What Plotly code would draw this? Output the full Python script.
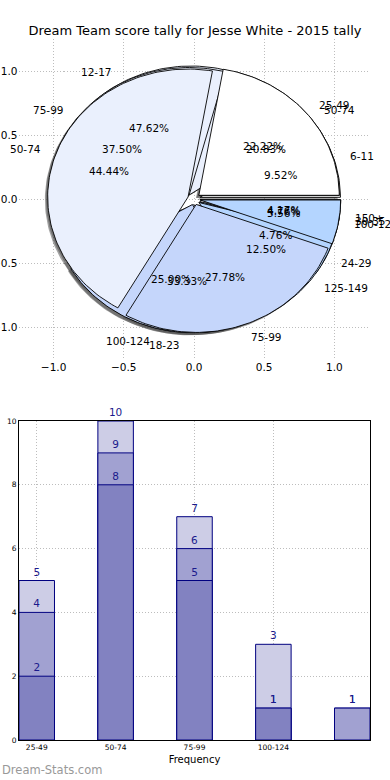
import numpy as np
import plotly.graph_objects as go

title = "Dream Team score tally for Jesse White - 2015 tally"

# three overlaid pies (drawn in this order, the last one on top)
pie_a_labels = ["6-11", "12-17", "18-23", "24-29", "30-35"]
pie_a_values = [2, 10, 7, 1, 1]
pie_b_labels = ["50-74", "75-99", "100-124", "125-149", "150+"]
pie_b_values = [5, 9, 6, 3, 1]
pie_c_labels = ["25-49", "50-74", "75-99", "100-124"]
pie_c_values = [4, 8, 5, 1]
slice_colors = ["#ffffff", "#eaf0fd", "#c5d6fb", "#b4d5ff", "#a8c8f8"]
explode = 0.045

# bar chart (overlaid bars)
bar_categories = ["25-49", "50-74", "75-99", "100-124", "125-149"]
bar_tick_labels = ["25-49", "50-74", "75-99", "100-124"]
bar_light = [5, 10, 7, 3, 1]
bar_medium = [4, 9, 6, 1, 1]
bar_dark = [2, 8, 5, 1, None]
bar_colors = {"light": "#cdcde6", "medium": "#a1a1d1", "dark": "#8282c1"}

W, H = 390, 780
FONT = "DejaVu Sans"

fig = go.Figure()

pies = [(pie_a_labels, pie_a_values), (pie_b_labels, pie_b_values), (pie_c_labels, pie_c_values)]


def wedge_path(t1, t2, cx, cy, r=1.0):
    n = max(int(abs(t2 - t1) / 1.5) + 2, 4)
    th = np.radians(np.linspace(t1, t2, n))
    xs = np.concatenate([[cx], cx + r * np.cos(th), [cx]])
    ys = np.concatenate([[cy], cy + r * np.sin(th), [cy]])
    return xs, ys


geoms = []
for labels, values in pies:
    vals = np.asarray(values, dtype=float)
    frac = vals / vals.sum()
    edges = np.concatenate([[0.0], np.cumsum(frac) * 360.0])
    items = []
    for i, lab in enumerate(labels):
        t1, t2 = edges[i], edges[i + 1]
        mid = np.radians((t1 + t2) / 2)
        cx, cy = explode * np.cos(mid), explode * np.sin(mid)
        items.append((t1, t2, cx, cy, mid, lab, frac[i], i))
    geoms.append(items)

# shadows first (below all wedges)
for items in geoms:
    for t1, t2, cx, cy, mid, lab, f, i in items:
        xs, ys = wedge_path(t1, t2, cx - 0.02, cy - 0.02)
        fig.add_trace(go.Scatter(x=xs, y=ys, fill="toself", mode="lines",
                                 line=dict(width=0, color="rgba(0,0,0,0)"),
                                 fillcolor="rgba(70,70,70,0.5)", hoverinfo="skip",
                                 showlegend=False, xaxis="x", yaxis="y"))
# wedges
for items in geoms:
    for t1, t2, cx, cy, mid, lab, f, i in items:
        xs, ys = wedge_path(t1, t2, cx, cy)
        fig.add_trace(go.Scatter(x=xs, y=ys, fill="toself", mode="lines",
                                 line=dict(width=0.9, color="black"),
                                 fillcolor=slice_colors[i], hoverinfo="skip",
                                 showlegend=False, xaxis="x", yaxis="y"))

annotations = []
for items in geoms:
    for t1, t2, cx, cy, mid, lab, f, i in items:
        lx, ly = cx + 1.1 * np.cos(mid), cy + 1.1 * np.sin(mid)
        annotations.append(dict(x=lx, y=ly, xref="x", yref="y", text=lab, showarrow=False,
                                xanchor="left" if lx > 0 else "right", yanchor="middle",
                                font=dict(family=FONT, size=10.5, color="black")))
        px, py = cx + 0.6 * np.cos(mid), cy + 0.6 * np.sin(mid)
        annotations.append(dict(x=px, y=py, xref="x", yref="y", text=f"{f*100:.2f}%", showarrow=False,
                                xanchor="center", yanchor="middle",
                                font=dict(family=FONT, size=10.5, color="black")))

# bars: tallest first, so the shorter ones sit in front
for name, vals in [("light", bar_light), ("medium", bar_medium), ("dark", bar_dark)]:
    fig.add_trace(go.Bar(x=bar_categories, y=vals, width=0.45,
                         marker=dict(color=bar_colors[name], line=dict(color="#000080", width=1)),
                         text=[("" if v is None else str(v)) for v in vals],
                         textposition="outside", cliponaxis=False,
                         textfont=dict(family=FONT, size=10.5, color="#1a1a8c"),
                         hoverinfo="skip", showlegend=False, xaxis="x2", yaxis="y2"))

grid = "#bdbdbd"
dots = "1px,2px"

fig.update_layout(
    width=W, height=H,
    margin=dict(l=0, r=0, t=0, b=0),
    paper_bgcolor="white", plot_bgcolor="white",
    barmode="overlay",
    uniformtext=dict(minsize=10.5, mode="show"),
    title=dict(text=title, x=0.5, xanchor="center", y=1 - 30 / H, yanchor="middle",
               font=dict(family=FONT, size=13, color="black")),
    xaxis=dict(domain=[18.5 / W, 369.5 / W], range=[-1.25, 1.25], tickvals=[-1, -0.5, 0, 0.5, 1],
               tickformat=".1f", showgrid=True, gridcolor=grid, griddash=dots, gridwidth=1,
               zeroline=False, showline=False, ticks="", anchor="y", automargin=False,
               tickfont=dict(family=FONT, size=10.5, color="black")),
    yaxis=dict(domain=[1 - 359 / H, 1 - 39 / H], range=[-1.25, 1.25], tickvals=[-1, -0.5, 0, 0.5, 1],
               tickformat=".1f", showgrid=True, gridcolor=grid, griddash=dots, gridwidth=1,
               zeroline=False, showline=False, ticks="", anchor="x", automargin=False,
               tickfont=dict(family=FONT, size=10.5, color="black")),
    xaxis2=dict(domain=[19 / W, 370 / W], type="category", categoryarray=bar_categories,
                categoryorder="array", range=[-0.225, 4.225], tickvals=bar_tick_labels,
                showgrid=True, gridcolor=grid, griddash=dots, gridwidth=1,
                showline=True, mirror=True, linecolor="black", linewidth=1, ticks="",
                anchor="y2", automargin=False, tickfont=dict(family=FONT, size=7.5, color="black"),
                title=dict(text="Frequency", font=dict(family=FONT, size=10, color="black"), standoff=4)),
    yaxis2=dict(domain=[1 - 740 / H, 1 - 421 / H], range=[0, 10], tickvals=[0, 2, 4, 6, 8, 10],
                showgrid=True, gridcolor=grid, griddash=dots, gridwidth=1, zeroline=False,
                showline=True, mirror=True, linecolor="black", linewidth=1, ticks="",
                anchor="x2", automargin=False, tickfont=dict(family=FONT, size=7.5, color="black")),
    annotations=annotations + [
        dict(x=0, y=1 - 770 / H, xref="paper", yref="paper", text="Dream-Stats.com", showarrow=False,
             xanchor="left", yanchor="middle", font=dict(family=FONT, size=11.5, color="#999999")),
    ],
)

fig.write_html("out.html", config={"displayModeBar": False},
               post_script="document.body.style.margin='0px';document.body.style.padding='0px';")
